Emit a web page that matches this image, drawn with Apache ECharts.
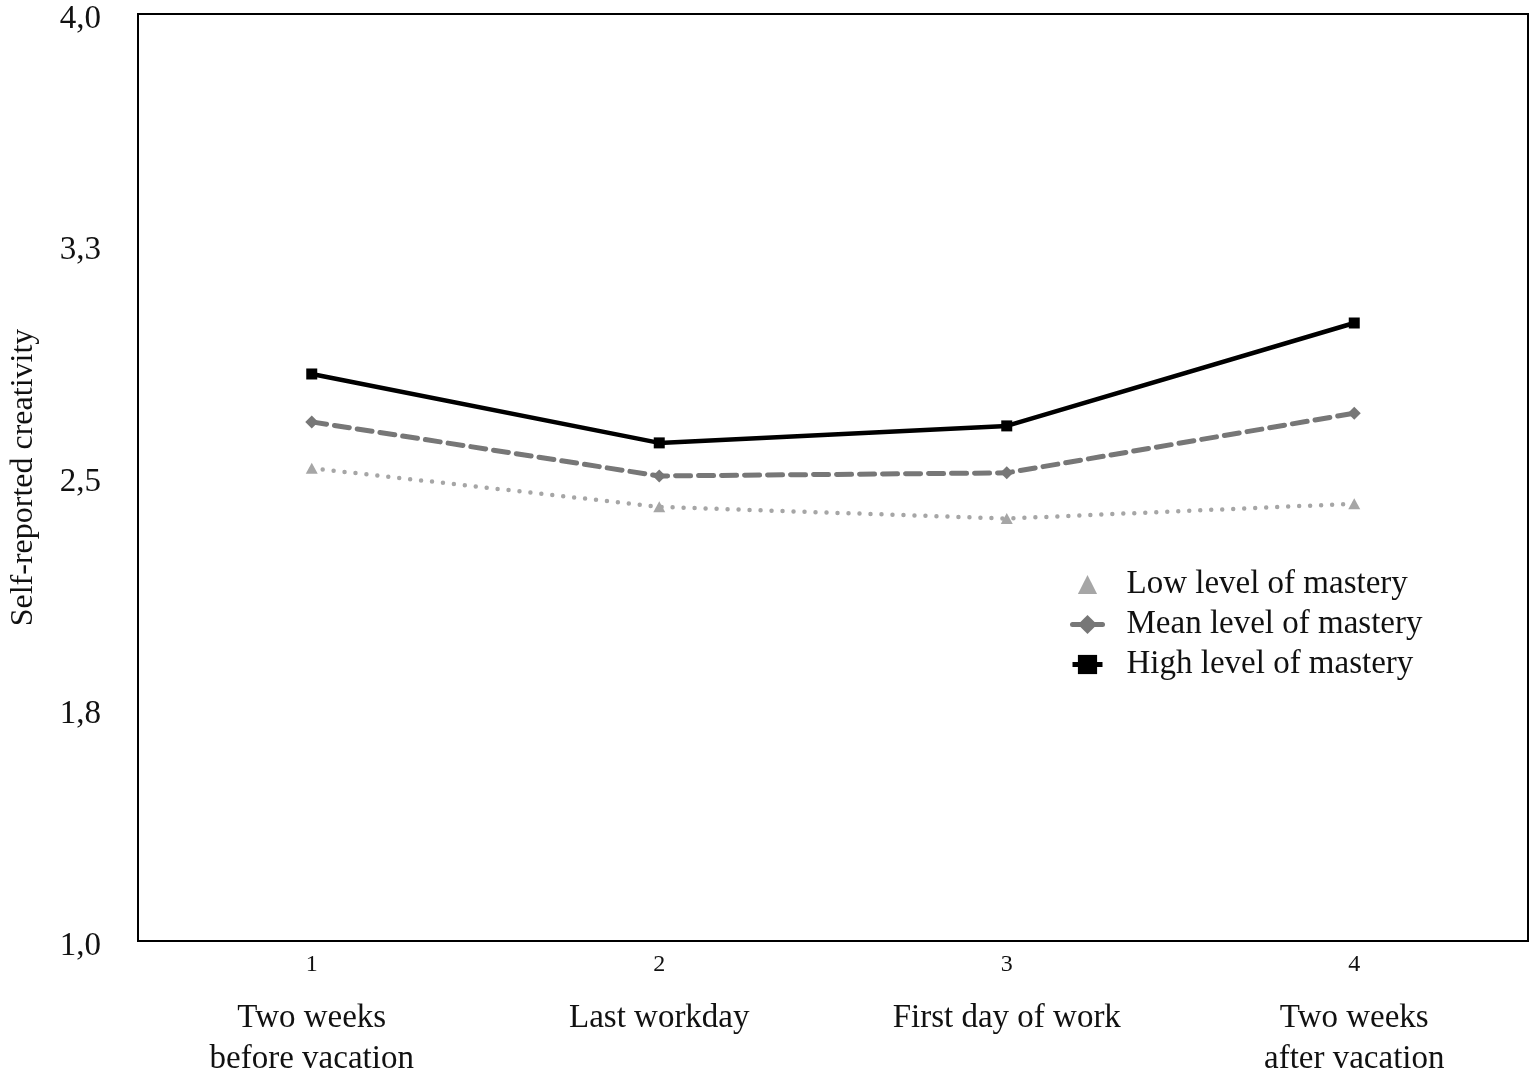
<!DOCTYPE html>
<html>
<head>
<meta charset="utf-8">
<script src="https://cdn.jsdelivr.net/npm/echarts@6/dist/echarts.min.js"></script>
<style>
html,body{margin:0;padding:0;background:#fff;}
#chart{width:1535px;height:1074px;}
</style>
</head>
<body>
<div id="chart"></div>
<script>
const categories = ['Two weeks\nbefore vacation', 'Last workday', 'First day of work', 'Two weeks\nafter vacation'];
const tickLabels = ['1', '2', '3', '4'];
const lowMastery = [2.53, 2.405, 2.367, 2.415];
const meanMastery = [2.68, 2.505, 2.515, 2.708];
const highMastery = [2.835, 2.612, 2.667, 3.0];
const seriesNames = ['Low level of mastery', 'Mean level of mastery', 'High level of mastery'];

const FONT = "'Liberation Serif', 'Times New Roman', serif";
const chart = echarts.init(document.getElementById('chart'));

chart.setOption({
  backgroundColor: '#fff',
  animation: false,
  grid: {
    left: 138, right: 7, top: 14, bottom: 133,
    outerBoundsMode: 'none',
    containLabel: false,
    show: true, borderColor: '#000', borderWidth: 2, backgroundColor: 'transparent'
  },
  legend: {
    orient: 'vertical',
    left: 1065,
    top: 563,
    itemWidth: 30,
    itemHeight: 24,
    itemGap: 7,
    textStyle: { fontFamily: FONT, fontSize: 33, color: '#111', lineHeight: 33, padding: [0, 0, 0, 19] },
    data: [
      { name: seriesNames[0], lineStyle: { opacity: 0 } },
      { name: seriesNames[1], lineStyle: { width: 5, type: 'solid' } },
      { name: seriesNames[2], lineStyle: { width: 5 } }
    ]
  },
  xAxis: {
    type: 'category',
    data: categories,
    boundaryGap: true,
    axisLine: { lineStyle: { color: '#000', width: 2 } },
    axisTick: { show: false },
    axisLabel: {
      margin: 10,
      interval: 0,
      formatter: function (v, i) {
        return '{n|' + tickLabels[i] + '}\n{s| }\n' + v.split('\n').map(l => '{c|' + l + '}').join('\n');
      },
      rich: {
        n: { fontFamily: FONT, fontSize: 24, lineHeight: 28, color: '#111' },
        s: { fontSize: 10, lineHeight: 19 },
        c: { fontFamily: FONT, fontSize: 33, lineHeight: 41, color: '#111' }
      }
    },
    splitLine: { show: false }
  },
  yAxis: {
    type: 'value',
    min: 1, max: 4, interval: 0.75,
    name: 'Self-reported creativity',
    nameLocation: 'middle',
    nameGap: 98,
    nameTextStyle: { fontFamily: FONT, fontSize: 32, color: '#111' },
    axisLine: { show: true, lineStyle: { color: '#000', width: 2 } },
    axisTick: { show: false },
    splitLine: { show: false },
    axisLabel: {
      margin: 37,
      formatter: v => '{y|' + v.toFixed(1).replace('.', ',') + '}',
      rich: {
        y: { fontFamily: FONT, fontSize: 33, color: '#111', padding: [10, 0, 0, 0] }
      }
    }
  },
  series: [
    {
      name: seriesNames[0], type: 'line', data: lowMastery,
      symbol: 'triangle', symbolSize: [12, 11],
      itemStyle: { color: '#a6a6a6' },
      lineStyle: { color: '#a6a6a6', width: 4.5, type: [0, 11], cap: 'round' },
      z: 2
    },
    {
      name: seriesNames[1], type: 'line', data: meanMastery,
      symbol: 'diamond', symbolSize: [13, 13],
      itemStyle: { color: '#777777' },
      lineStyle: { color: '#777777', width: 5, type: [15, 8], cap: 'round' },
      z: 3
    },
    {
      name: seriesNames[2], type: 'line', data: highMastery,
      symbol: 'rect', symbolSize: [11, 11],
      itemStyle: { color: '#000000' },
      lineStyle: { color: '#000000', width: 4.5 },
      z: 4
    }
  ]
});
</script>
</body>
</html>
